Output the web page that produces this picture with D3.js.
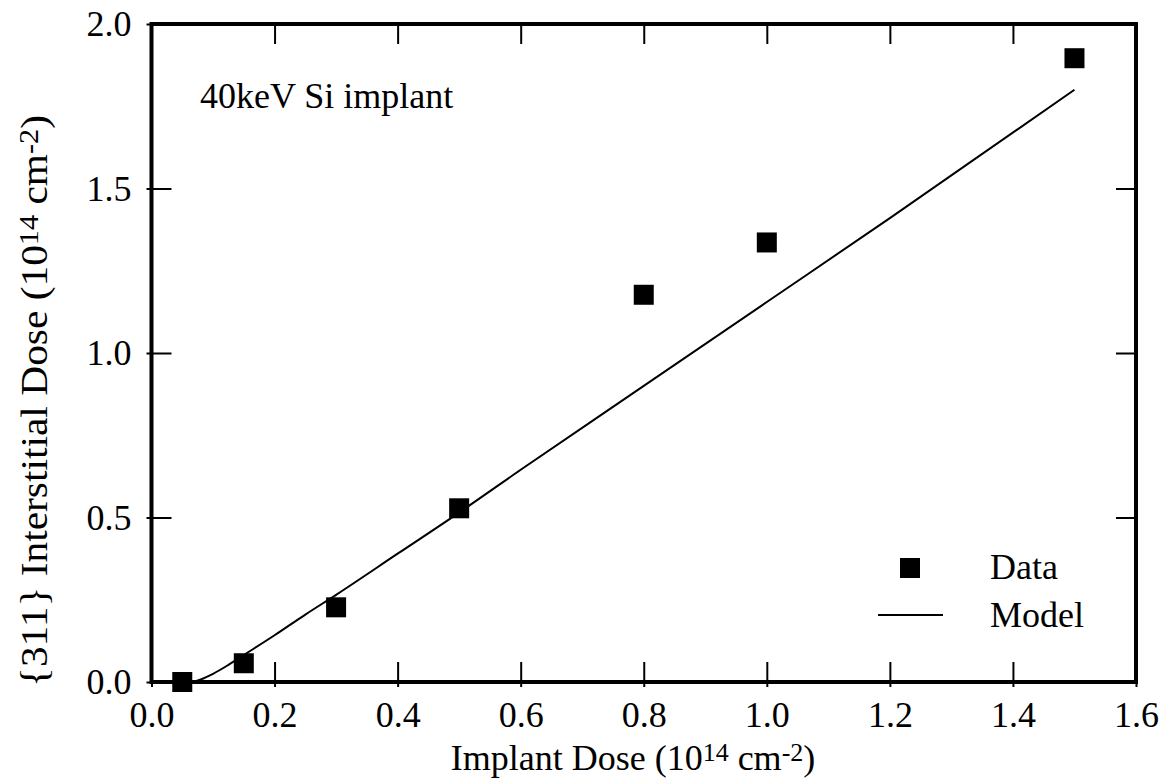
<!DOCTYPE html>
<html>
<head>
<meta charset="utf-8">
<script src="https://cdn.jsdelivr.net/npm/d3@7/dist/d3.min.js"></script>
<style>
  html, body { margin: 0; padding: 0; background: #fff; }
  svg { display: block; font-family: "Liberation Serif", "Times New Roman", serif; }
</style>
</head>
<body>
<svg id="chart" width="1173" height="784"></svg>
<script>
// Data
const dataDose = [0.05, 0.15, 0.30, 0.50, 0.80, 1.00, 1.50];
const dataInterstitial = [0.00, 0.057, 0.227, 0.528, 1.177, 1.336, 1.896];
const modelDose = [0.066, 0.08, 0.10, 0.125, 0.15, 0.20, 0.25, 0.30, 0.40, 0.50, 0.60, 0.80, 1.00, 1.20, 1.50];
const modelInterstitial = [0.0, 0.008, 0.025, 0.052, 0.082, 0.142, 0.205, 0.265, 0.39, 0.515, 0.645, 0.90, 1.155, 1.41, 1.80];
const xTicks = [0.0, 0.2, 0.4, 0.6, 0.8, 1.0, 1.2, 1.4, 1.6];
const yTicks = [0.0, 0.5, 1.0, 1.5, 2.0];
const legendLabels = ["Data", "Model"];
const annotation = "40keV Si implant";

const svg = d3.select("#chart");
const L = 151.5, R = 1136, T = 24, B = 682;
const x = d3.scaleLinear().domain([0, 1.6]).range([L, R]);
const y = d3.scaleLinear().domain([0, 2.0]).range([B, T]);
const FS = 36;

// Inward ticks (all four sides)
const gInB = svg.append("g").attr("transform", `translate(0,${B})`)
  .call(d3.axisBottom(x).tickValues(xTicks).tickSizeInner(-20).tickSizeOuter(0).tickFormat(""));
const gInT = svg.append("g").attr("transform", `translate(0,${T})`)
  .call(d3.axisTop(x).tickValues(xTicks).tickSizeInner(-20).tickSizeOuter(0).tickFormat(""));
const gInL = svg.append("g").attr("transform", `translate(${L},0)`)
  .call(d3.axisLeft(y).tickValues(yTicks).tickSizeInner(-20).tickSizeOuter(0).tickFormat(""));
const gInR = svg.append("g").attr("transform", `translate(${R},0)`)
  .call(d3.axisRight(y).tickValues(yTicks).tickSizeInner(-20).tickSizeOuter(0).tickFormat(""));

// Outward stubs with labels (bottom and left)
const gB = svg.append("g").attr("transform", `translate(0,${B})`)
  .call(d3.axisBottom(x).tickValues(xTicks).tickSizeInner(5).tickSizeOuter(0).tickPadding(14).tickFormat(d3.format(".1f")));
const gL = svg.append("g").attr("transform", `translate(${L},0)`)
  .call(d3.axisLeft(y).tickValues(yTicks).tickSizeInner(5).tickSizeOuter(0).tickPadding(15).tickFormat(d3.format(".1f")));

[gInB, gInT, gInL, gInR, gB, gL].forEach(g => {
  g.select(".domain").remove();
  g.selectAll(".tick line").attr("stroke", "#000").attr("stroke-width", 2);
  g.selectAll("text").attr("font-family", "Liberation Serif, serif").attr("font-size", FS).attr("fill", "#000");
});

// Frame
svg.append("rect").attr("x", L).attr("y", T).attr("width", R - L).attr("height", B - T)
  .attr("fill", "none").attr("stroke", "#000").attr("stroke-width", 4);

// Model line
const line = d3.line().x((d, i) => x(modelDose[i])).y((d, i) => y(modelInterstitial[i])).curve(d3.curveMonotoneX);
svg.append("path").datum(modelDose).attr("d", line)
  .attr("fill", "none").attr("stroke", "#000").attr("stroke-width", 2);

// Data squares
const S = 20;
svg.append("g").selectAll("rect").data(dataDose).join("rect")
  .attr("x", (d) => x(d) - S / 2)
  .attr("y", (d, i) => y(dataInterstitial[i]) - S / 2)
  .attr("width", S).attr("height", S).attr("fill", "#000");

// Annotation
svg.append("text").attr("x", 200).attr("y", 108).attr("font-size", FS).text(annotation);

// Legend
svg.append("rect").attr("x", 910 - S / 2).attr("y", 568 - S / 2).attr("width", S).attr("height", S).attr("fill", "#000");
svg.append("line").attr("x1", 878).attr("x2", 943).attr("y1", 615).attr("y2", 615).attr("stroke", "#000").attr("stroke-width", 2);
svg.append("text").attr("x", 990).attr("y", 579).attr("font-size", FS).text(legendLabels[0]);
svg.append("text").attr("x", 990).attr("y", 627).attr("font-size", FS).text(legendLabels[1]);

// Axis titles
function titleWithSup(sel, parts, supSize) {
  parts.forEach(p => {
    const t = sel.append("tspan").text(p.t);
    if (p.sup) t.attr("font-size", supSize).attr("baseline-shift", "35%");
  });
}
const xt = svg.append("text").attr("x", 633).attr("y", 770).attr("text-anchor", "middle").attr("font-size", FS);
titleWithSup(xt, [{t: "Implant Dose (10"}, {t: "14", sup: true}, {t: " cm"}, {t: "-2", sup: true}, {t: ")"}], 26);

const yt = svg.append("text").attr("transform", `translate(47,401) rotate(-90)`).attr("text-anchor", "middle")
  .attr("font-size", 37).attr("textLength", 572).attr("lengthAdjust", "spacingAndGlyphs");
titleWithSup(yt, [{t: "{311} Interstitial Dose (10"}, {t: "14", sup: true}, {t: " cm"}, {t: "-2", sup: true}, {t: ")"}], 27);
</script>
</body>
</html>
